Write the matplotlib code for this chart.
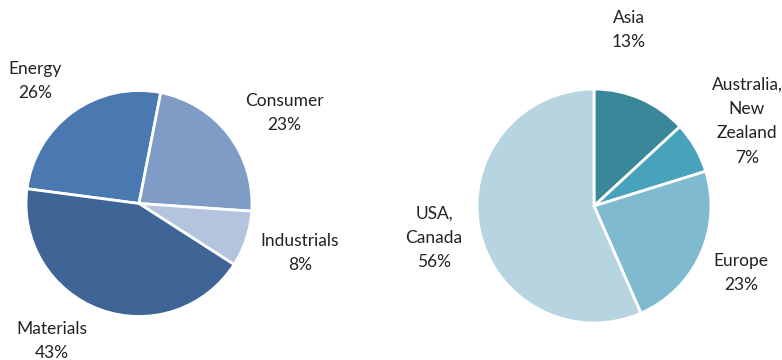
import matplotlib
matplotlib.use("Agg")
import matplotlib.pyplot as plt

# ---------- data ----------
sector_names = ["Energy", "Consumer", "Industrials", "Materials"]
sector_pct = [26, 23, 8, 43]
sector_colors = ["#4a78b0", "#7f9cc7", "#b4c4de", "#3e6596"]

region_names = ["Asia", "Australia,\nNew\nZealand", "Europe", "USA,\nCanada"]
region_pct = [13, 7, 23, 56]
region_colors = ["#3a8799", "#47a2bb", "#7fbad0", "#b7d5e0"]

W, H = 782, 360
plt.rcParams["font.family"] = ["Lato", "DejaVu Sans"]

fig = plt.figure(figsize=(W / 100, H / 100), dpi=100)
ax = fig.add_axes([0, 0, 1, 1])

def py(y):
    # pixel row (top-down) -> data y
    return H - y

wedge = dict(edgecolor="white", linewidth=2.0)

# left pie: sectors
ax.pie(sector_pct, colors=sector_colors, startangle=172.5, counterclock=False,
       center=(139, py(203.5)), radius=113, wedgeprops=wedge, frame=True)
# right pie: regions
ax.pie(region_pct, colors=region_colors, startangle=90, counterclock=False,
       center=(594, py(206)), radius=117, wedgeprops=wedge, frame=True)

txt = dict(ha="center", va="center", fontsize=12.5, color="#222222",
           linespacing=1.65)

sector_pos = [(35, 81), (284, 113), (300, 253), (52, 341)]
for name, p, (x, y) in zip(sector_names, sector_pct, sector_pos):
    ax.text(x, py(y), f"{name}\n{p}%", **txt)

region_pos = [(629, 30), (747, 121), (741, 273), (434, 238)]
for name, p, (x, y) in zip(region_names, region_pct, region_pos):
    ax.text(x, py(y), f"{name}\n{p}%", **txt)

ax.set_xlim(0, W)
ax.set_ylim(0, H)
ax.set_aspect("equal")
ax.axis("off")

fig.savefig("out.png", dpi=100)
